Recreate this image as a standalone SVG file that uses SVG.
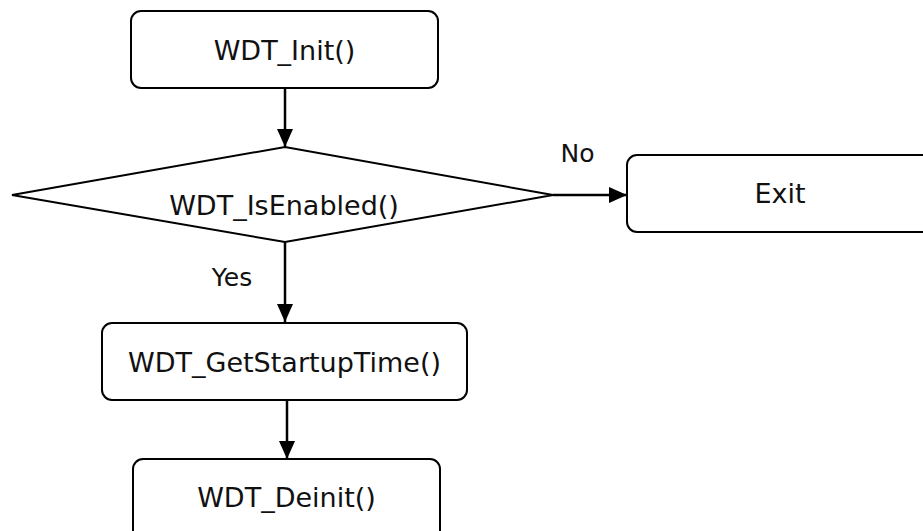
<svg xmlns="http://www.w3.org/2000/svg" width="923" height="531" viewBox="0 0 923 531">
  <defs>
    <style>
      .box { fill: #ffffff; stroke: #000000; stroke-width: 2; }
      .edge { fill: none; stroke: #000000; stroke-width: 2.5; }
      .lbl { font-family: "DejaVu Sans", Verdana, sans-serif; font-size: 27px; fill: #111111; }
      .small { font-size: 25px; }
      .mid { text-anchor: middle; }
    </style>
    <marker id="arrow" viewBox="0 0 18 16" refX="18" refY="8" markerWidth="18" markerHeight="16" markerUnits="userSpaceOnUse" orient="auto">
      <path d="M0,0 L18,8 L0,16 Z" fill="#000000"/>
    </marker>
  </defs>

  <!-- start -->
  <g id="init">
    <rect class="box" x="131" y="11" width="307" height="77" rx="10" ry="10"/>
    <text class="lbl mid" x="284.5" y="60">WDT_Init()</text>
  </g>

  <!-- decision -->
  <g id="isEnabled">
    <polygon class="box" points="12,195 285,147 553,195 285,242"/>
    <text class="lbl mid" x="284" y="215">WDT_IsEnabled()</text>
  </g>

  <g id="exit">
    <rect class="box" x="627" y="155" width="320" height="77" rx="10" ry="10"/>
    <text class="lbl mid" x="780" y="203">Exit</text>
  </g>

  <g id="getStartupTime">
    <rect class="box" x="102" y="323" width="365" height="77" rx="10" ry="10"/>
    <text class="lbl mid" x="284.5" y="372">WDT_GetStartupTime()</text>
  </g>

  <g id="deinit">
    <rect class="box" x="133" y="459" width="307" height="90" rx="10" ry="10"/>
    <text class="lbl mid" x="286.5" y="507">WDT_Deinit()</text>
  </g>

  <!-- connectors -->
  <g id="connectors">
    <line class="edge" x1="285" y1="88" x2="285" y2="147" marker-end="url(#arrow)"/>
    <line class="edge" x1="553" y1="195" x2="627" y2="195" marker-end="url(#arrow)"/>
    <line class="edge" x1="285" y1="242" x2="285" y2="322" marker-end="url(#arrow)"/>
    <line class="edge" x1="287" y1="400" x2="287" y2="459" marker-end="url(#arrow)"/>
    <text class="lbl small mid" x="577.5" y="162">No</text>
    <text class="lbl small mid" x="232" y="286">Yes</text>
  </g>
</svg>
